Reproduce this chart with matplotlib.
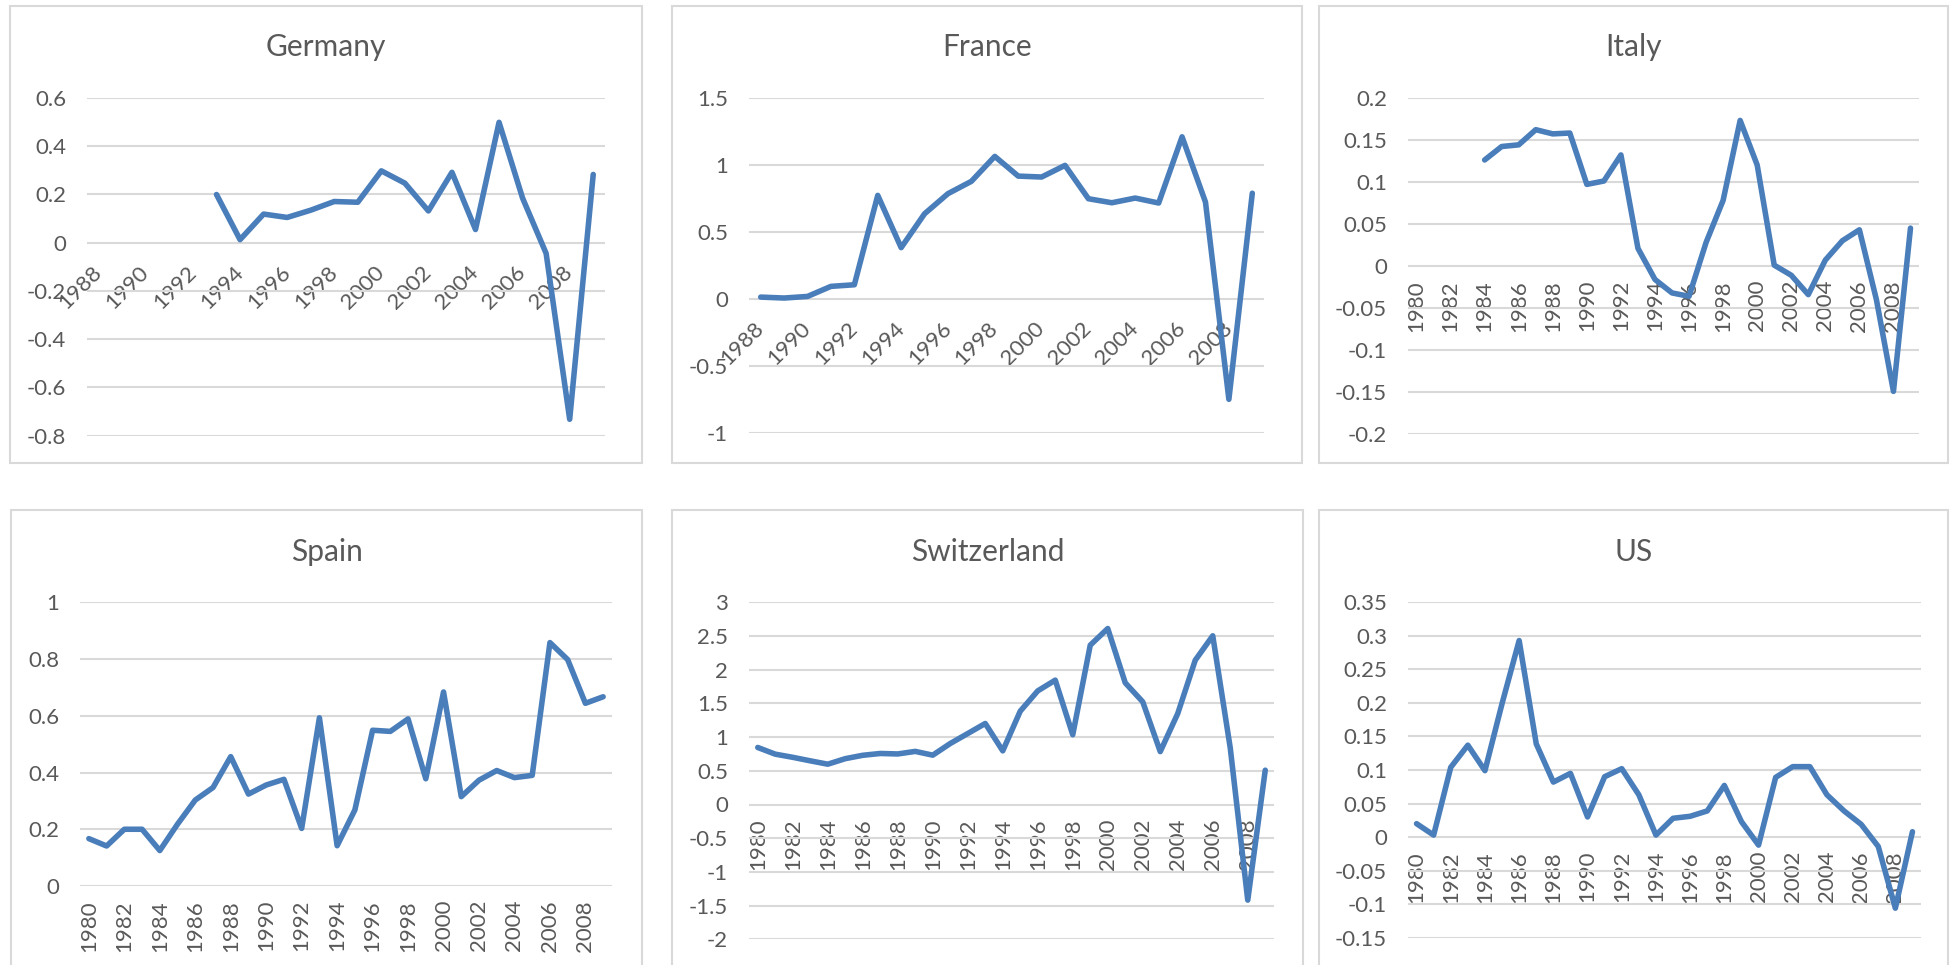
import numpy as np
import matplotlib
matplotlib.use("Agg")
import matplotlib.pyplot as plt
from matplotlib.patches import Rectangle

plt.rcParams["font.family"] = ["Lato", "DejaVu Sans"]

nan = np.nan

# ---------------- data ----------------
germany_years = list(range(1988, 2010))
germany_values = [nan, nan, nan, nan, nan,
                  0.199, 0.012, 0.118, 0.104, 0.134, 0.170, 0.167, 0.297, 0.246,
                  0.131, 0.291, 0.054, 0.498, 0.184, -0.045, -0.732, 0.282]
germany_yticks = [-0.8, -0.6, -0.4, -0.2, 0, 0.2, 0.4, 0.6]

france_years = list(range(1988, 2010))
france_values = [0.012, 0.005, 0.017, 0.092, 0.104, 0.771, 0.381, 0.634, 0.784,
                 0.876, 1.062, 0.915, 0.908, 0.995, 0.746, 0.716, 0.751, 0.714,
                 1.208, 0.721, -0.751, 0.787]
france_yticks = [-1, -0.5, 0, 0.5, 1, 1.5]

italy_years = list(range(1980, 2010))
italy_values = [nan, nan, nan, nan,
                0.126, 0.142, 0.144, 0.162, 0.157, 0.158, 0.097, 0.101, 0.132,
                0.021, -0.016, -0.032, -0.036, 0.028, 0.078, 0.173, 0.120, 0.001,
                -0.011, -0.034, 0.007, 0.030, 0.043, -0.040, -0.149, 0.045]
italy_yticks = [-0.2, -0.15, -0.1, -0.05, 0, 0.05, 0.1, 0.15, 0.2]

spain_years = list(range(1980, 2010))
spain_values = [0.167, 0.141, 0.200, 0.200, 0.125, 0.218, 0.303, 0.347, 0.456,
                0.324, 0.356, 0.376, 0.203, 0.593, 0.142, 0.268, 0.549, 0.545,
                0.589, 0.378, 0.684, 0.315, 0.373, 0.407, 0.382, 0.390, 0.858,
                0.798, 0.644, 0.667]
spain_yticks = [0, 0.2, 0.4, 0.6, 0.8, 1]

switzerland_years = list(range(1980, 2010))
switzerland_values = [0.846, 0.747, 0.700, 0.648, 0.598, 0.680, 0.730, 0.757,
                      0.750, 0.788, 0.732, 0.905, 1.053, 1.202, 0.796, 1.385,
                      1.686, 1.845, 1.035, 2.364, 2.611, 1.805, 1.523, 0.785,
                      1.350, 2.141, 2.503, 0.840, -1.419, 0.509]
switzerland_yticks = [-2, -1.5, -1, -0.5, 0, 0.5, 1, 1.5, 2, 2.5, 3]

us_years = list(range(1980, 2010))
us_values = [0.020, 0.003, 0.104, 0.137, 0.099, 0.199, 0.293, 0.139, 0.082,
             0.095, 0.030, 0.090, 0.102, 0.063, 0.003, 0.028, 0.031, 0.039,
             0.077, 0.023, -0.012, 0.089, 0.105, 0.105, 0.063, 0.039, 0.019,
             -0.014, -0.106, 0.008]
us_yticks = [-0.15, -0.1, -0.05, 0, 0.05, 0.1, 0.15, 0.2, 0.25, 0.3, 0.35]

# ---------------- style ----------------
W, H, DPI = 1952, 965, 100
LINE = "#4A7EBB"
GRID = "#D9D9D9"
TXT = "#595959"
TICK_FS = 16
TITLE_FS = 21.5

fig = plt.figure(figsize=(W / DPI, H / DPI), dpi=DPI)
fig.patch.set_facecolor("white")


def fig_box(x0, y0, x1, y1):
    fig.patches.append(Rectangle((x0 / W, 1 - y1 / H), (x1 - x0) / W, (y1 - y0) / H,
                                 transform=fig.transFigure, fill=False,
                                 edgecolor=GRID, linewidth=1.5, zorder=0))


def panel(box, area, title_y, title, years, values, yticks, rot):
    bx0, by0, bx1, by1 = box
    fig_box(bx0, by0, bx1, by1)
    fig.text((bx0 + bx1) / 2 / W, 1 - title_y / H, title, ha="center", va="center",
             fontsize=TITLE_FS, color=TXT)
    x0, y0, x1, y1 = area
    ax = fig.add_axes([x0 / W, 1 - y1 / H, (x1 - x0) / W, (y1 - y0) / H])
    n = len(years)
    xs = np.arange(n)
    ax.plot(xs, values, color=LINE, linewidth=4.0, solid_joinstyle="round",
            solid_capstyle="round", zorder=3, clip_on=False)
    ax.set_xlim(-0.5, n - 0.5)
    ax.set_ylim(yticks[0], yticks[-1])
    ax.set_yticks(yticks)
    ax.set_yticklabels([f"{v:g}" for v in yticks])
    ax.set_xticks(xs[::2])
    ax.set_xticklabels([str(y) for y in years[::2]])
    ax.set_axisbelow(True)
    ax.yaxis.grid(True, color=GRID, linewidth=1.5)
    ax.xaxis.grid(False)
    for s in ax.spines.values():
        s.set_visible(False)
    ax.spines["bottom"].set_position(("data", 0))
    ax.tick_params(axis="y", length=0, pad=15, labelsize=TICK_FS, labelcolor=TXT)
    if rot == 45:
        ax.tick_params(axis="x", length=0, pad=19, labelsize=TICK_FS, labelcolor=TXT)
        for lab in ax.get_xticklabels():
            lab.set_rotation(45)
            lab.set_ha("right")
            lab.set_va("center")
            lab.set_rotation_mode("anchor")
    else:
        ax.tick_params(axis="x", length=0, pad=10, labelsize=TICK_FS, labelcolor=TXT)
        for lab in ax.get_xticklabels():
            lab.set_rotation(90)
            lab.set_ha("center")
            lab.set_va("top")
    ax.patch.set_alpha(0)
    return ax


panel((10, 6, 642, 463), (87, 97.7, 605, 435.7), 47, "Germany",
      germany_years, germany_values, germany_yticks, 45)
panel((672, 6, 1302, 463), (749, 97.7, 1264, 432.7), 47, "France",
      france_years, france_values, france_yticks, 45)
panel((1319, 6, 1948, 463), (1408, 97.7, 1919, 434.3), 47, "Italy",
      italy_years, italy_values, italy_yticks, 90)
panel((11, 510, 642, 1000), (80, 602.3, 612, 886), 552, "Spain",
      spain_years, spain_values, spain_yticks, 90)
panel((672, 510, 1303, 1000), (749, 602.3, 1274, 939.3), 552, "Switzerland",
      switzerland_years, switzerland_values, switzerland_yticks, 90)
panel((1319, 510, 1948, 1000), (1408, 602.3, 1921, 937.7), 552, "US",
      us_years, us_values, us_yticks, 90)

fig.savefig("out.png", dpi=DPI, facecolor="white")
